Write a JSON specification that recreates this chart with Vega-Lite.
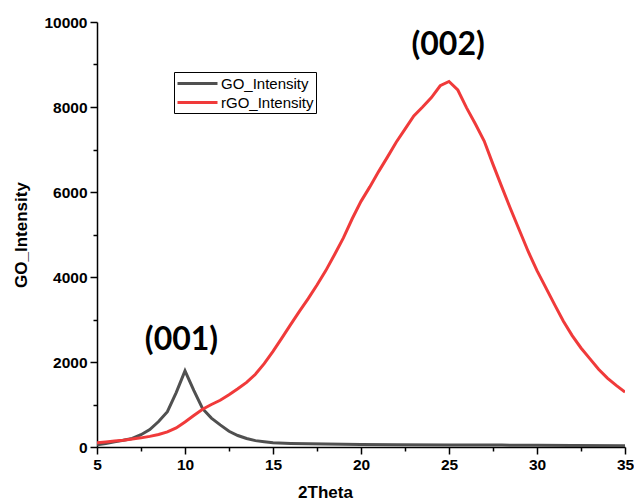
{
  "$schema": "https://vega.github.io/schema/vega-lite/v6.json",
  "width": 528,
  "height": 425,
  "autosize": "none",
  "padding": {"left": 97, "top": 22, "right": 9, "bottom": 57},
  "background": "white",
  "config": {
    "view": {"stroke": null},
    "font": "Liberation Sans"
  },
  "datasets": {
    "curves": [
      {"theta": 5, "intensity": 50, "series": "GO_Intensity"},
      {"theta": 5.5, "intensity": 80, "series": "GO_Intensity"},
      {"theta": 6, "intensity": 120, "series": "GO_Intensity"},
      {"theta": 6.5, "intensity": 160, "series": "GO_Intensity"},
      {"theta": 7, "intensity": 200, "series": "GO_Intensity"},
      {"theta": 7.5, "intensity": 290, "series": "GO_Intensity"},
      {"theta": 8, "intensity": 410, "series": "GO_Intensity"},
      {"theta": 8.5, "intensity": 600, "series": "GO_Intensity"},
      {"theta": 9, "intensity": 830, "series": "GO_Intensity"},
      {"theta": 9.5, "intensity": 1280, "series": "GO_Intensity"},
      {"theta": 10, "intensity": 1790, "series": "GO_Intensity"},
      {"theta": 10.5, "intensity": 1330, "series": "GO_Intensity"},
      {"theta": 11, "intensity": 900, "series": "GO_Intensity"},
      {"theta": 11.5, "intensity": 680, "series": "GO_Intensity"},
      {"theta": 12, "intensity": 520, "series": "GO_Intensity"},
      {"theta": 12.5, "intensity": 370, "series": "GO_Intensity"},
      {"theta": 13, "intensity": 270, "series": "GO_Intensity"},
      {"theta": 13.5, "intensity": 200, "series": "GO_Intensity"},
      {"theta": 14, "intensity": 150, "series": "GO_Intensity"},
      {"theta": 14.5, "intensity": 125, "series": "GO_Intensity"},
      {"theta": 15, "intensity": 100, "series": "GO_Intensity"},
      {"theta": 16, "intensity": 85, "series": "GO_Intensity"},
      {"theta": 17, "intensity": 75, "series": "GO_Intensity"},
      {"theta": 18, "intensity": 70, "series": "GO_Intensity"},
      {"theta": 20, "intensity": 60, "series": "GO_Intensity"},
      {"theta": 22, "intensity": 55, "series": "GO_Intensity"},
      {"theta": 25, "intensity": 50, "series": "GO_Intensity"},
      {"theta": 28, "intensity": 45, "series": "GO_Intensity"},
      {"theta": 30, "intensity": 40, "series": "GO_Intensity"},
      {"theta": 32, "intensity": 35, "series": "GO_Intensity"},
      {"theta": 35, "intensity": 30, "series": "GO_Intensity"},
      {"theta": 5, "intensity": 100, "series": "rGO_Intensity"},
      {"theta": 5.5, "intensity": 120, "series": "rGO_Intensity"},
      {"theta": 6, "intensity": 140, "series": "rGO_Intensity"},
      {"theta": 6.5, "intensity": 160, "series": "rGO_Intensity"},
      {"theta": 7, "intensity": 190, "series": "rGO_Intensity"},
      {"theta": 7.5, "intensity": 215, "series": "rGO_Intensity"},
      {"theta": 8, "intensity": 250, "series": "rGO_Intensity"},
      {"theta": 8.5, "intensity": 295, "series": "rGO_Intensity"},
      {"theta": 9, "intensity": 355, "series": "rGO_Intensity"},
      {"theta": 9.5, "intensity": 450, "series": "rGO_Intensity"},
      {"theta": 10, "intensity": 590, "series": "rGO_Intensity"},
      {"theta": 10.5, "intensity": 740, "series": "rGO_Intensity"},
      {"theta": 11, "intensity": 890, "series": "rGO_Intensity"},
      {"theta": 11.5, "intensity": 1000, "series": "rGO_Intensity"},
      {"theta": 12, "intensity": 1100, "series": "rGO_Intensity"},
      {"theta": 12.5, "intensity": 1230, "series": "rGO_Intensity"},
      {"theta": 13, "intensity": 1370, "series": "rGO_Intensity"},
      {"theta": 13.5, "intensity": 1520, "series": "rGO_Intensity"},
      {"theta": 14, "intensity": 1710, "series": "rGO_Intensity"},
      {"theta": 14.5, "intensity": 1960, "series": "rGO_Intensity"},
      {"theta": 15, "intensity": 2250, "series": "rGO_Intensity"},
      {"theta": 15.5, "intensity": 2560, "series": "rGO_Intensity"},
      {"theta": 16, "intensity": 2880, "series": "rGO_Intensity"},
      {"theta": 16.5, "intensity": 3190, "series": "rGO_Intensity"},
      {"theta": 17, "intensity": 3490, "series": "rGO_Intensity"},
      {"theta": 17.5, "intensity": 3810, "series": "rGO_Intensity"},
      {"theta": 18, "intensity": 4150, "series": "rGO_Intensity"},
      {"theta": 18.5, "intensity": 4530, "series": "rGO_Intensity"},
      {"theta": 19, "intensity": 4920, "series": "rGO_Intensity"},
      {"theta": 19.5, "intensity": 5370, "series": "rGO_Intensity"},
      {"theta": 20, "intensity": 5780, "series": "rGO_Intensity"},
      {"theta": 20.5, "intensity": 6120, "series": "rGO_Intensity"},
      {"theta": 21, "intensity": 6480, "series": "rGO_Intensity"},
      {"theta": 21.5, "intensity": 6820, "series": "rGO_Intensity"},
      {"theta": 22, "intensity": 7170, "series": "rGO_Intensity"},
      {"theta": 22.5, "intensity": 7480, "series": "rGO_Intensity"},
      {"theta": 23, "intensity": 7790, "series": "rGO_Intensity"},
      {"theta": 23.5, "intensity": 8000, "series": "rGO_Intensity"},
      {"theta": 24, "intensity": 8220, "series": "rGO_Intensity"},
      {"theta": 24.5, "intensity": 8500, "series": "rGO_Intensity"},
      {"theta": 25, "intensity": 8600, "series": "rGO_Intensity"},
      {"theta": 25.5, "intensity": 8400, "series": "rGO_Intensity"},
      {"theta": 26, "intensity": 7980, "series": "rGO_Intensity"},
      {"theta": 26.5, "intensity": 7600, "series": "rGO_Intensity"},
      {"theta": 27, "intensity": 7200, "series": "rGO_Intensity"},
      {"theta": 27.5, "intensity": 6650, "series": "rGO_Intensity"},
      {"theta": 28, "intensity": 6120, "series": "rGO_Intensity"},
      {"theta": 28.5, "intensity": 5600, "series": "rGO_Intensity"},
      {"theta": 29, "intensity": 5100, "series": "rGO_Intensity"},
      {"theta": 29.5, "intensity": 4600, "series": "rGO_Intensity"},
      {"theta": 30, "intensity": 4150, "series": "rGO_Intensity"},
      {"theta": 30.5, "intensity": 3750, "series": "rGO_Intensity"},
      {"theta": 31, "intensity": 3350, "series": "rGO_Intensity"},
      {"theta": 31.5, "intensity": 2960, "series": "rGO_Intensity"},
      {"theta": 32, "intensity": 2620, "series": "rGO_Intensity"},
      {"theta": 32.5, "intensity": 2330, "series": "rGO_Intensity"},
      {"theta": 33, "intensity": 2080, "series": "rGO_Intensity"},
      {"theta": 33.5, "intensity": 1830, "series": "rGO_Intensity"},
      {"theta": 34, "intensity": 1620, "series": "rGO_Intensity"},
      {"theta": 34.5, "intensity": 1450, "series": "rGO_Intensity"},
      {"theta": 35, "intensity": 1290, "series": "rGO_Intensity"}
    ],
    "labels": [
      {"theta": 9.8, "intensity": 2520, "text": "(001)"},
      {"theta": 24.95, "intensity": 9450, "text": "(002)"}
    ]
  },
  "layer": [
    {
      "data": {"name": "curves"},
      "mark": {"type": "line", "strokeWidth": 3, "clip": true},
      "encoding": {
        "x": {
          "field": "theta",
          "type": "quantitative",
          "scale": {"domain": [5, 35], "nice": false, "zero": false},
          "axis": {
            "title": "2Theta",
            "values": [5, 7.5, 10, 12.5, 15, 17.5, 20, 22.5, 25, 27.5, 30, 32.5, 35],
            "labelExpr": "datum.value % 5 === 0 ? datum.label : ''",
            "grid": false,
            "domainColor": "black",
            "domainWidth": 1.5,
            "tickColor": "black",
            "tickWidth": 1.5,
            "tickSize": {"condition": {"test": "datum.value % 5 === 0", "value": 7}, "value": 4},
            "labelPadding": 3,
            "labelFont": "Liberation Sans",
            "labelFontSize": 15.5,
            "labelFontWeight": "bold",
            "labelColor": "black",
            "labelFlush": false,
            "labelOverlap": false,
            "titleFont": "Liberation Sans",
            "titleFontSize": 17,
            "titleFontWeight": "bold",
            "titleColor": "black",
            "titleX": 228,
            "titlePadding": 12
          }
        },
        "y": {
          "field": "intensity",
          "type": "quantitative",
          "scale": {"domain": [0, 10000], "nice": false},
          "axis": {
            "title": "GO_Intensity",
            "values": [0, 1000, 2000, 3000, 4000, 5000, 6000, 7000, 8000, 9000, 10000],
            "labelExpr": "datum.value % 2000 === 0 ? format(datum.value, 'd') : ''",
            "grid": false,
            "domainColor": "black",
            "domainWidth": 1.5,
            "tickColor": "black",
            "tickWidth": 1.5,
            "tickSize": {"condition": {"test": "datum.value % 2000 === 0", "value": 7}, "value": 4},
            "labelPadding": 3,
            "labelFont": "Liberation Sans",
            "labelFontSize": 15.5,
            "labelFontWeight": "bold",
            "labelColor": "black",
            "labelFlush": false,
            "labelOverlap": false,
            "titleFont": "Liberation Sans",
            "titleFontSize": 17,
            "titleFontWeight": "bold",
            "titleColor": "black",
            "titlePadding": 13
          }
        },
        "color": {
          "field": "series",
          "type": "nominal",
          "scale": {"domain": ["GO_Intensity", "rGO_Intensity"], "range": ["#505050", "#f03a3a"]},
          "legend": {
            "title": null,
            "orient": "none",
            "legendX": 77,
            "legendY": 50,
            "strokeColor": "black",
            "padding": 2,
            "symbolType": "M-1,0H4",
            "symbolSize": 256,
            "symbolStrokeWidth": 3,
            "labelFont": "Liberation Sans",
            "labelFontSize": 15,
            "labelColor": "black",
            "labelOffset": 26,
            "rowPadding": 1
          }
        }
      }
    },
    {
      "data": {"name": "labels"},
      "mark": {"type": "text", "font": "Lato", "fontSize": 32, "fontWeight": "bold", "color": "black", "align": "center", "baseline": "middle"},
      "encoding": {
        "x": {"field": "theta", "type": "quantitative"},
        "y": {"field": "intensity", "type": "quantitative"},
        "text": {"field": "text"}
      }
    }
  ]
}
